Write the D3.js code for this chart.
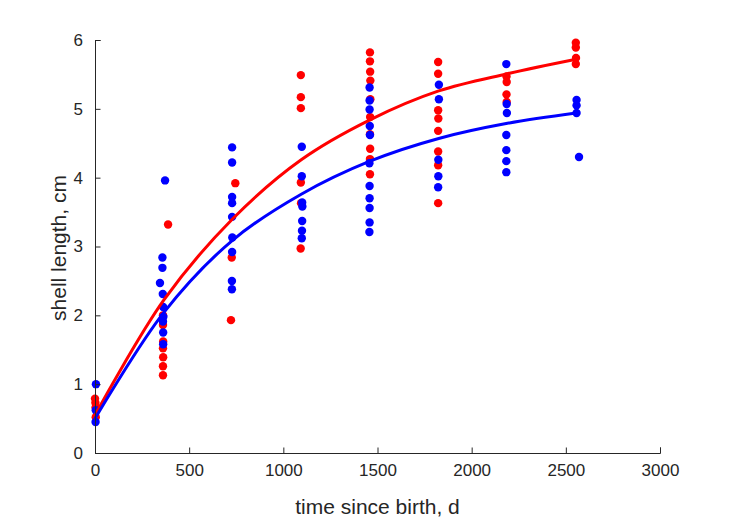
<!DOCTYPE html>
<html><head><meta charset="utf-8">
<script src="https://cdn.jsdelivr.net/npm/d3@7"></script>
<style>body{margin:0;background:#fff;} svg{display:block;} text{font-family:"Liberation Sans",Arial,sans-serif;}</style>
</head><body>
<svg id="c" width="729" height="521"></svg>
<script>
// Red sample (days, cm)
const redDays = [0,2,3,4, 361,361,362,361,362,361,361,388, 745,726,722, 1093,1093,1093,1093,1094,1092, 1460,1460,1461,1462,1462,1461,1460,1461,1460,1460, 1822,1822,1822,1823,1822,1822,1822,1822, 2185,2186,2185,2186, 2553,2553,2554,2553];
const redLen  = [0.79,0.73,0.66,0.52, 2.00,1.86,1.62,1.52,1.39,1.26,1.13,3.32, 3.92,2.84,1.93, 5.49,5.17,5.01,3.93,3.63,2.97, 5.82,5.69,5.54,5.41,5.14,4.88,4.63,4.42,4.27,4.05, 5.68,5.51,4.98,4.86,4.68,4.38,4.18,3.63, 5.47,5.39,5.21,5.10, 5.96,5.89,5.74,5.65];
// Blue sample (days, cm)
const blueDays = [5,4,3, 372,358,358,345,360,362,363,361,362,362, 728,728,728,728,728,729,728,727,727, 1098,1098,1100,1101,1100,1099,1098, 1458,1458,1458,1459,1460,1457,1458,1458,1458,1458,1457, 1826,1826,1823,1823,1822, 2184,2186,2187,2184,2184,2184,2184, 2557,2557,2557,2570];
const blueLen  = [1.00,0.62,0.45, 3.96,2.84,2.69,2.47,2.31,2.12,1.98,1.91,1.75,1.58, 4.44,4.22,3.72,3.63,3.43,3.13,2.92,2.50,2.38, 4.45,4.02,3.64,3.58,3.37,3.23,3.12, 5.31,5.12,4.99,4.75,4.62,4.21,3.88,3.70,3.56,3.35,3.21, 5.35,5.14,4.26,4.02,3.86, 5.65,5.07,4.94,4.62,4.40,4.24,4.08, 5.13,5.05,4.94,4.30];
// Fitted growth curves, read at yearly points
const curveDays = [0,365,730,1095,1460,1825,2190,2555];
const redCurve  = [0.55,2.22,3.40,4.26,4.84,5.26,5.51,5.72];
const blueCurve = [0.50,2.04,3.09,3.76,4.24,4.57,4.79,4.94];
const xTicks = [0,500,1000,1500,2000,2500,3000];
const yTicks = [0,1,2,3,4,5,6];

const svg = d3.select("#c");
const L=95, T=40, W=565, H=413;
const x = d3.scaleLinear().domain([0,3000]).range([L,L+W]);
const y = d3.scaleLinear().domain([0,6]).range([T+H,T]);
const ax = "#262626";

const g = svg.append("g");
const xa = svg.append("g").attr("transform",`translate(0,${T+H})`)
  .call(d3.axisBottom(x).tickValues(xTicks).tickSize(-5.5).tickPadding(11).tickFormat(d3.format("d")));
const ya = svg.append("g").attr("transform",`translate(${L},0)`)
  .call(d3.axisLeft(y).tickValues(yTicks).tickSize(-5.5).tickPadding(12).tickFormat(d3.format("d")));
[xa,ya].forEach(a=>{
  a.select(".domain").attr("stroke",ax).attr("stroke-width",1);
  a.selectAll(".tick line").attr("stroke",ax);
  a.selectAll(".tick text").attr("fill",ax).style("font-size","17px").style("font-family","'Liberation Sans',Arial,sans-serif");
});

const redPts = redDays.map((d,i)=>[d,redLen[i]]);
const bluePts = blueDays.map((d,i)=>[d,blueLen[i]]);
const line = d3.line().x(d=>x(d[0])).y(d=>y(d[1])).curve(d3.curveCatmullRom.alpha(0.5));

g.selectAll(".r").data(redPts).join("circle").attr("cx",d=>x(d[0])).attr("cy",d=>y(d[1])).attr("r",4.2).attr("fill","#ff0000");
g.selectAll(".b").data(bluePts).join("circle").attr("cx",d=>x(d[0])).attr("cy",d=>y(d[1])).attr("r",4.2).attr("fill","#0000ff");
g.append("path").datum(curveDays.map((d,i)=>[d,redCurve[i]])).attr("d",line).attr("fill","none").attr("stroke","#ff0000").attr("stroke-width",3);
g.append("path").datum(curveDays.map((d,i)=>[d,blueCurve[i]])).attr("d",line).attr("fill","none").attr("stroke","#0000ff").attr("stroke-width",3);

svg.append("text").attr("x",L+W/2).attr("y",514).attr("text-anchor","middle").attr("fill",ax).style("font-size","21px").text("time since birth, d");
svg.append("text").attr("transform",`translate(66,248) rotate(-90)`).attr("text-anchor","middle").attr("fill",ax).style("font-size","21px").text("shell length, cm");
</script>
</body></html>
